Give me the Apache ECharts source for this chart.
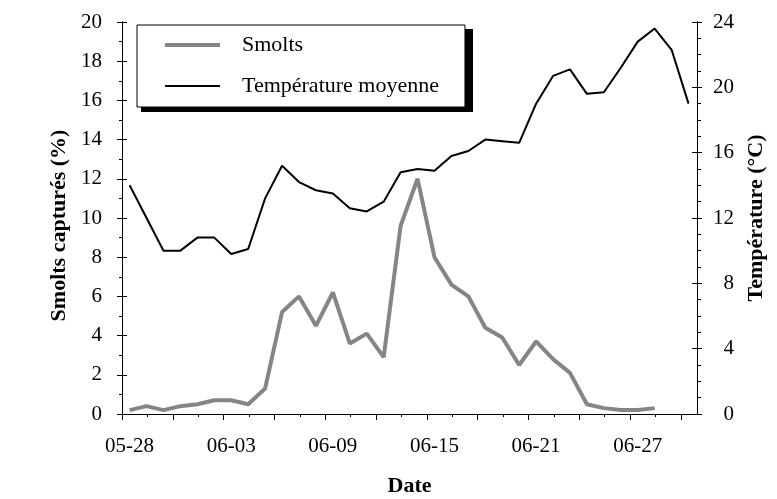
<!DOCTYPE html>
<html>
<head>
<meta charset="utf-8">
<script src="https://cdn.jsdelivr.net/npm/echarts@6/dist/echarts.min.js"></script>
<style>
  html, body { margin: 0; padding: 0; background: #fff; }
  #chart { width: 777px; height: 499px; }
</style>
</head>
<body>
<div id="chart"></div>
<script>
// day 0 = 05-28
const labelDays = [0, 6, 12, 18, 24, 30];
const labelTexts = ["05-28", "06-03", "06-09", "06-15", "06-21", "06-27"];

// smolts captured (%), one per day from 05-28
const smolts = [0.2, 0.4, 0.2, 0.4, 0.5, 0.7, 0.7, 0.5, 1.3, 5.2, 6.0, 4.5, 6.2, 3.6, 4.1, 2.9,
  9.6, 12.0, 8.0, 6.6, 6.0, 4.4, 3.9, 2.5, 3.7, 2.8, 2.1, 0.5, 0.3, 0.2, 0.2, 0.3];
// mean temperature (°C), one per day from 05-28
const temperature = [14.0, 12.0, 10.0, 10.0, 10.8, 10.8, 9.8, 10.1, 13.2, 15.2, 14.2, 13.7, 13.5,
  12.6, 12.4, 13.0, 14.8, 15.0, 14.9, 15.8, 16.1, 16.8, 16.7, 16.6, 19.0, 20.7, 21.1, 19.6, 19.7,
  21.2, 22.8, 23.6, 22.3, 19.0];

const xMin = -0.45, xMax = 33.5, tickStep = 1.5;
const majorTicks = [], minorTicks = [];
for (let k = 0; xMin + k * tickStep <= xMax; k++) {
  (k % 2 === 0 ? majorTicks : minorTicks).push(+(xMin + k * tickStep).toFixed(3));
}

const font = "Liberation Serif";
const black = "#000";
const grey = "#858585";

const chart = echarts.init(document.getElementById("chart"));

chart.setOption({
  backgroundColor: "#fff",
  animation: false,
  textStyle: { fontFamily: font, color: black },
  grid: { left: 122, right: 80, top: 22, bottom: 85, outerBoundsMode: "none" },
  // hard drop shadow behind the legend box
  graphic: [{
    type: "rect",
    z: 0,
    shape: { x: 141, y: 29, width: 332, height: 83 },
    style: { fill: black }
  }],
  legend: {
    orient: "vertical",
    left: 137,
    top: 25,
    z: 10,
    padding: [9, 26, 10, 26],
    itemWidth: 55,
    itemHeight: 20,
    itemGap: 19,
    backgroundColor: "#fff",
    borderColor: black,
    borderWidth: 1,
    borderRadius: 0,
    itemStyle: { opacity: 0 },
    textStyle: { fontFamily: font, fontSize: 22, color: black, padding: [0, 0, 0, 17] },
    data: [
      { name: "Smolts", lineStyle: { color: grey, width: 4 } },
      { name: "Température moyenne", lineStyle: { color: black, width: 2 } }
    ]
  },
  xAxis: [
    {
      type: "value",
      min: xMin,
      max: xMax,
      name: "Date",
      nameLocation: "middle",
      nameGap: 61,
      nameTextStyle: { fontFamily: font, fontSize: 22, fontWeight: "bold", color: black },
      axisLine: { show: true, onZero: false, lineStyle: { color: black, width: 1 } },
      axisTick: { show: true, length: 6, customValues: majorTicks, lineStyle: { color: black } },
      axisLabel: {
        customValues: labelDays,
        margin: 22,
        fontSize: 21,
        color: black,
        formatter: v => labelTexts[labelDays.indexOf(Math.round(v))] || ""
      },
      splitLine: { show: false }
    },
    {
      type: "value",
      min: xMin,
      max: xMax,
      position: "bottom",
      axisLine: { show: false, onZero: false },
      axisTick: { show: true, length: 3, customValues: minorTicks, lineStyle: { color: black } },
      axisLabel: { show: false, customValues: minorTicks },
      splitLine: { show: false }
    }
  ],
  yAxis: [
    {
      type: "value",
      position: "left",
      min: 0, max: 20, interval: 2,
      name: "Smolts capturés (%)",
      nameLocation: "middle",
      nameRotate: 90,
      nameGap: 42,
      nameTextStyle: { fontFamily: font, fontSize: 22, fontWeight: "bold", color: black, padding: [0, 15, 0, 0] },
      axisLine: { show: true, onZero: false, lineStyle: { color: black, width: 1 } },
      axisTick: { show: true, length: 5, lineStyle: { color: black } },
      minorTick: { show: true, splitNumber: 2, length: 3, lineStyle: { color: black } },
      axisLabel: { margin: 20, fontSize: 21, color: black },
      splitLine: { show: false }
    },
    {
      type: "value",
      position: "right",
      min: 0, max: 24, interval: 4,
      name: "Température (°C)",
      nameLocation: "middle",
      nameRotate: 90,
      nameGap: 33,
      nameTextStyle: { fontFamily: font, fontSize: 22, fontWeight: "bold", color: black },
      axisLine: { show: true, onZero: false, lineStyle: { color: black, width: 1 } },
      axisTick: { show: true, length: 5, lineStyle: { color: black } },
      minorTick: { show: true, splitNumber: 4, length: 4, lineStyle: { color: black } },
      axisLabel: { margin: 37, align: "right", fontSize: 21, color: black },
      splitLine: { show: false }
    },
    // inside halves of the major ticks (they cross the axis line)
    {
      type: "value", position: "left", min: 0, max: 20, interval: 2,
      axisLine: { show: true, onZero: false, lineStyle: { color: black, width: 1 } },
      axisTick: { show: true, inside: true, length: 5, lineStyle: { color: black } },
      axisLabel: { show: false },
      splitLine: { show: false }
    },
    {
      type: "value", position: "right", min: 0, max: 24, interval: 4,
      axisLine: { show: true, onZero: false, lineStyle: { color: black, width: 1 } },
      axisTick: { show: true, inside: true, length: 5, lineStyle: { color: black } },
      axisLabel: { show: false },
      splitLine: { show: false }
    }
  ],
  series: [
    {
      name: "Smolts",
      type: "line",
      xAxisIndex: 0,
      yAxisIndex: 0,
      symbol: "none",
      lineStyle: { color: grey, width: 4 },
      itemStyle: { color: grey },
      data: smolts.map((v, i) => [i, v])
    },
    {
      name: "Température moyenne",
      type: "line",
      xAxisIndex: 0,
      yAxisIndex: 1,
      symbol: "none",
      lineStyle: { color: black, width: 2 },
      itemStyle: { color: black },
      data: temperature.map((v, i) => [i, v])
    }
  ]
});
</script>
</body>
</html>
